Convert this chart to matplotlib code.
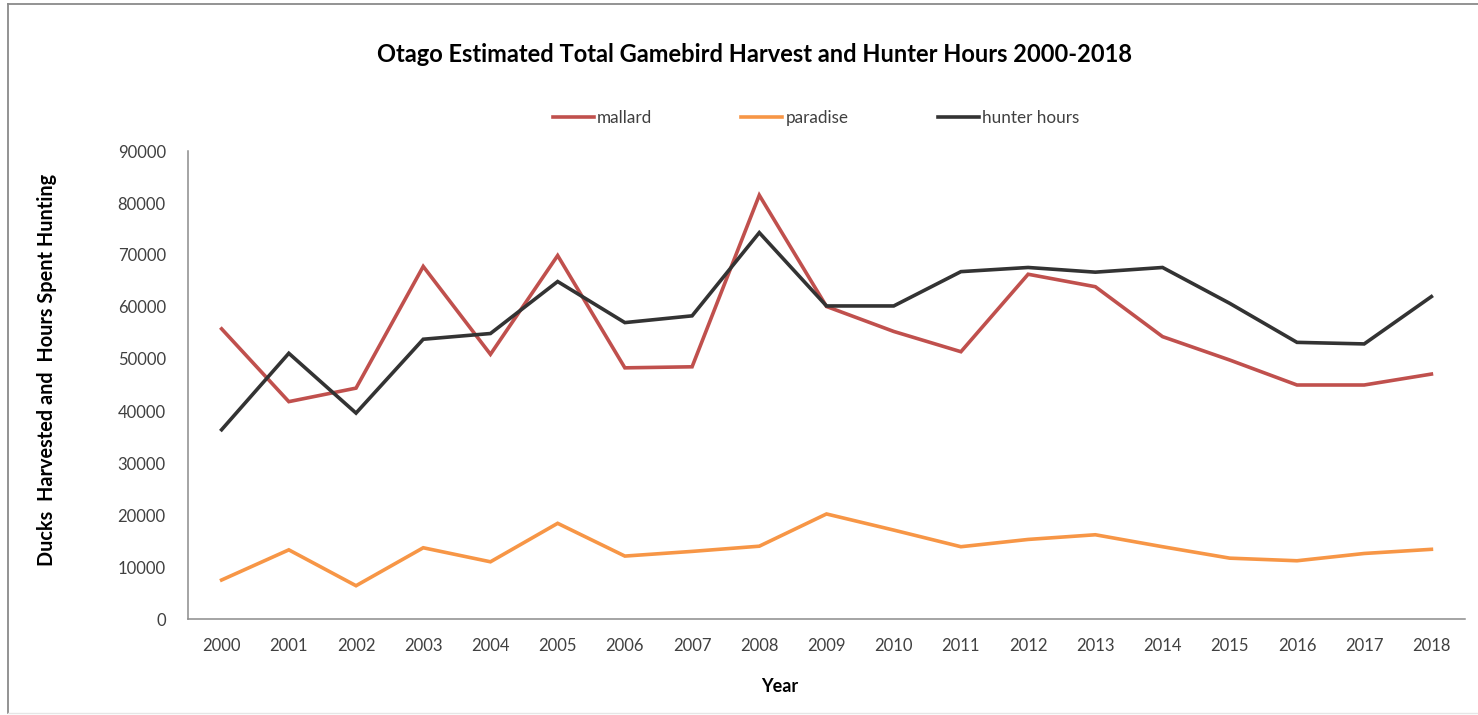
import matplotlib
matplotlib.use("Agg")
import matplotlib.pyplot as plt
from matplotlib.lines import Line2D

years = [str(y) for y in range(2000, 2019)]
mallard = [55800, 41800, 44400, 67800, 50900, 69900, 48300, 48500, 81500, 60100,
           55300, 51400, 66300, 63900, 54300, 49800, 45000, 45000, 47100]
paradise = [7500, 13300, 6400, 13700, 11000, 18400, 12100, 13000, 14000, 20200,
            17100, 13900, 15300, 16200, 13900, 11700, 11200, 12600, 13400]
hunter_hours = [36400, 51100, 39600, 53800, 54900, 64900, 57000, 58300, 74300, 60200,
                60200, 66800, 67600, 66700, 67600, 60700, 53200, 52900, 62000]
y_ticks = list(range(0, 90001, 10000))

series = [
    ("mallard", mallard, "#C0504D"),
    ("paradise", paradise, "#F79646"),
    ("hunter hours", hunter_hours, "#333333"),
]

W, H = 1478, 715
fig = plt.figure(figsize=(W / 100, H / 100), dpi=100)
fig.patch.set_facecolor("white")

# outer chart border
fig.add_artist(Line2D([8 / W, 1], [1 - 3.5 / H, 1 - 3.5 / H], color="#8a8a8a", lw=1.3))
fig.add_artist(Line2D([8 / W, 8 / W], [2 / H, 1 - 3.5 / H], color="#8a8a8a", lw=1.3))
fig.add_artist(Line2D([8 / W, 1], [2 / H, 2 / H], color="#e6e6e6", lw=1.0))

left, right, top, bottom = 188, 1465, 151, 619
ax = fig.add_axes([left / W, (H - bottom) / H, (right - left) / W, (bottom - top) / H])

x = list(range(len(years)))
handles = []
for name, vals, col in series:
    (ln,) = ax.plot(x, vals, color=col, lw=2.6, label=name, solid_joinstyle="miter")
    handles.append(ln)

ax.set_xlim(-0.5, len(years) - 0.5)
ax.set_ylim(0, 90000)
ax.set_yticks(y_ticks)
ax.set_yticklabels([str(v) for v in y_ticks])
ax.set_xticks(x)
ax.set_xticklabels(years)

font = "Lato"
for sp in ["top", "right"]:
    ax.spines[sp].set_visible(False)
for sp in ["left", "bottom"]:
    ax.spines[sp].set_color("#8c8c8c")
    ax.spines[sp].set_linewidth(1.1)
ax.tick_params(axis="both", length=0, labelsize=12, labelcolor="#404040")
ax.tick_params(axis="y", pad=16)
ax.tick_params(axis="x", pad=14)
for lab in ax.get_xticklabels() + ax.get_yticklabels():
    lab.set_fontfamily(font)

fig.text(755 / W, 1 - 55 / H, "Otago Estimated Total Gamebird Harvest and Hunter Hours 2000-2018",
         ha="center", va="center", fontsize=17, fontweight="bold", family=font, color="black")
fig.text(780 / W, 1 - 687 / H, "Year", ha="center", va="center", fontsize=13,
         fontweight="bold", family=font, color="black")
fig.text(47 / W, 1 - 370 / H, "Ducks  Harvested and  Hours Spent Hunting", ha="center",
         va="center", rotation=90, fontsize=14.3, fontweight="bold", family=font, color="black")

fig.legend(handles=handles, loc="center", bbox_to_anchor=(816 / W, 1 - 118 / H), ncol=3,
           frameon=False, handlelength=2.4, handletextpad=0.2, columnspacing=5.2,
           prop={"family": font, "size": 12.3}, labelcolor="#404040")

fig.savefig("out.png", dpi=100)
